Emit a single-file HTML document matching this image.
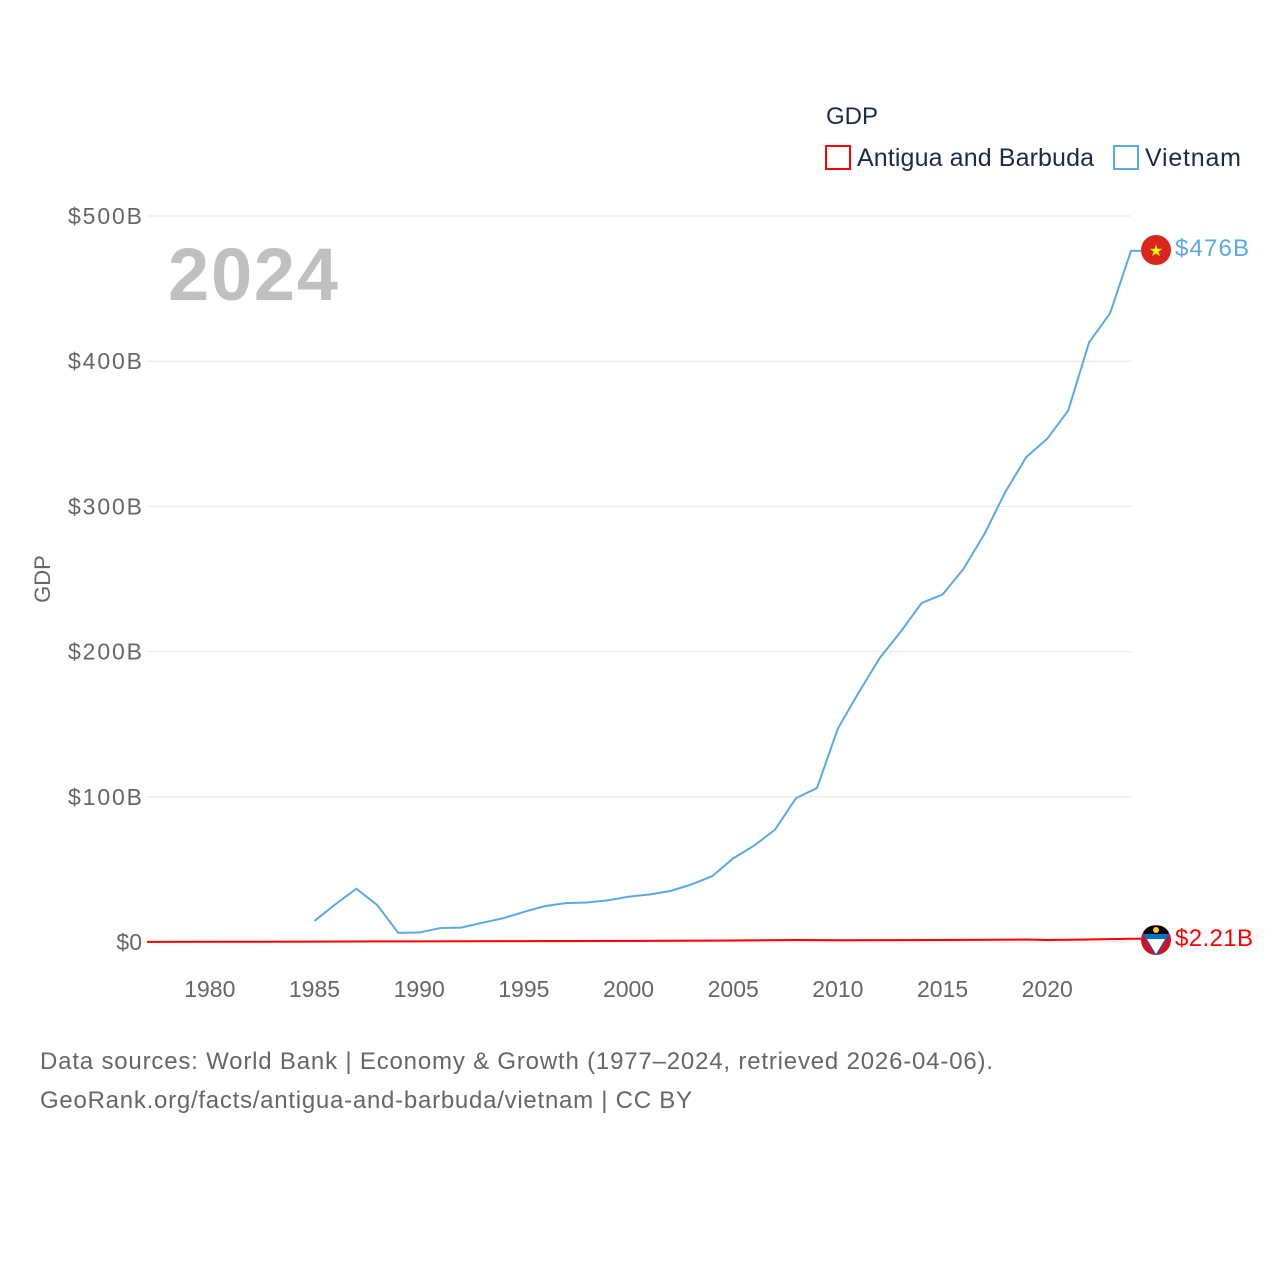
<!DOCTYPE html>
<html><head><meta charset="utf-8"><style>
body{margin:0;background:#fff;font-family:"Liberation Sans",sans-serif}
</style></head><body>
<svg width="1280" height="1280" xmlns="http://www.w3.org/2000/svg" style="font-family:'Liberation Sans',sans-serif">
<defs><clipPath id="agc"><circle cx="1156" cy="940" r="15"/></clipPath></defs>
<g id="grid"></g>
<g id="yticks"></g>
<g id="xticks"></g>
<text x="253" y="300" font-size="74" font-weight="bold" fill="#c0c0c0" text-anchor="middle" textLength="170">2024</text>
<text transform="translate(50,579) rotate(-90)" font-size="22" fill="#666" text-anchor="middle">GDP</text>
<text x="826" y="124" font-size="24" fill="#1a2b4a">GDP</text>
<g><rect x="826" y="146" width="24" height="23" fill="none" stroke="#f00" stroke-width="2"/><text x="857" y="166" font-size="25" fill="#1a2b4a" textLength="237">Antigua and Barbuda</text></g>
<g><rect x="1114" y="146" width="24" height="23" fill="none" stroke="#5aa9e6" stroke-width="2"/><text x="1145" y="166" font-size="25" fill="#1a2b4a" textLength="96">Vietnam</text></g>
<g id="series"></g>
<g><circle cx="1156" cy="250" r="15" fill="#da251d"/><text x="1156" y="256" font-size="16" fill="#ff0" text-anchor="middle">★</text></g>
<text x="1175" y="256" font-size="24" fill="#5aa9e6" textLength="74">$476B</text>
<g clip-path="url(#agc)"><rect x="1140" y="924" width="32" height="32" fill="#ce1126"/><path d="M1140,926 L1172,926 L1156,956 Z" fill="#000"/><path d="M1143,934 L1169,934 L1156,956 Z" fill="#0072c6"/><circle cx="1156" cy="930" r="3" fill="#fcd116"/><path d="M1147,939 L1165,939 L1156,954 Z" fill="#fff"/></g>
<text x="1175" y="946" font-size="24" fill="#f00" textLength="78">$2.21B</text>
<text x="40" y="1069" font-size="24" fill="#666" textLength="953">Data sources: World Bank | Economy &amp; Growth (1977–2024, retrieved 2026-04-06).</text>
<text x="40" y="1108" font-size="24" fill="#666" textLength="652">GeoRank.org/facts/antigua-and-barbuda/vietnam | CC BY</text>
</svg>
<script>
const yTicks=[0,100,200,300,400,500];
const yTickLabels=["$0","$100B","$200B","$300B","$400B","$500B"];
const xTicks=[1980,1985,1990,1995,2000,2005,2010,2015,2020];
const vnYears=[1985,1986,1987,1988,1989,1990,1991,1992,1993,1994,1995,1996,1997,1998,1999,2000,2001,2002,2003,2004,2005,2006,2007,2008,2009,2010,2011,2012,2013,2014,2015,2016,2017,2018,2019,2020,2021,2022,2023,2024];
const vnValues=[14.5,26,36.7,25.4,6.3,6.5,9.6,9.9,13.2,16.3,20.7,24.7,26.8,27.2,28.7,31.2,32.7,35.1,39.6,45.4,57.6,66.4,77.4,99.1,106,147,172,195.6,213.7,233.5,239.3,257,281,310,334,346.6,366,413,433,476];
const agYears=[1977,1980,1985,1990,1995,2000,2005,2008,2010,2015,2019,2020,2022,2024];
const agValues=[0.1,0.15,0.3,0.45,0.6,0.8,1.0,1.4,1.2,1.35,1.7,1.4,1.7,2.21];
const NS="http://www.w3.org/2000/svg";
const X=y=>147+(y-1977)*(1131-147)/(2024-1977);
const Y=v=>942-v*(942-216)/500;
function mk(t,a,p){const e=document.createElementNS(NS,t);for(const k in a)e.setAttribute(k,a[k]);p.appendChild(e);return e;}
const grid=document.getElementById('grid'),yt=document.getElementById('yticks'),xt=document.getElementById('xticks'),ser=document.getElementById('series');
yTicks.forEach((v,i)=>{
 const l=mk('line',{x1:147,x2:1131,y1:Y(v),y2:Y(v),stroke:'#e6e6e6'},grid);
 
 
 const t=mk('text',{x:142,y:Y(v)+8,'font-size':23,fill:'#666','text-anchor':'end'},yt);t.textContent=yTickLabels[i];
 if(i>0)t.setAttribute('textLength',74);
 
 
});
xTicks.forEach(v=>{
 const t=mk('text',{x:X(v),y:997,'font-size':23,fill:'#666','text-anchor':'middle'},xt);t.textContent=v;
 
 
});
const vp=mk('polyline',{points:vnYears.map((y,i)=>X(y)+','+Y(vnValues[i])).join(' ')+' '+(X(2024)+10)+','+Y(476),fill:'none',stroke:'#5aa9e6','stroke-width':2},ser);


const ap=mk('polyline',{points:agYears.map((y,i)=>X(y)+','+Y(agValues[i])).join(' ')+' '+(X(2024)+10)+','+Y(2.21),fill:'none',stroke:'#f00','stroke-width':2},ser);


</script>
</body></html>
